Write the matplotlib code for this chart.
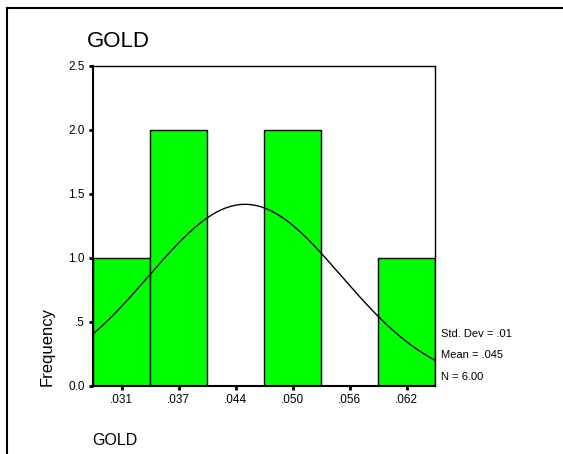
import numpy as np
import matplotlib
matplotlib.use("Agg")
import matplotlib.pyplot as plt
from matplotlib.lines import Line2D

plt.rcParams['font.family'] = ['Liberation Sans', 'DejaVu Sans']

# Data
bin_centers = [0.03125, 0.0375, 0.04375, 0.05, 0.05625, 0.0625]
counts = [1, 2, 0, 2, 0, 1]
x_tick_labels = ['.031', '.037', '.044', '.050', '.056', '.062']
y_ticks = [0.0, 0.5, 1.0, 1.5, 2.0, 2.5]
y_tick_labels = ['0.0', '.5', '1.0', '1.5', '2.0', '2.5']
bin_width = 0.00625
n_obs = 6
fit_mean = 0.0448
fit_sd = 0.01054
stats_lines = ['Std. Dev = .01', 'Mean = .045', 'N = 6.00']

W, H = 563, 454
fig = plt.figure(figsize=(W / 100, H / 100), dpi=100)
ax = fig.add_axes([93 / W, 68 / H, 342 / W, 320 / H])

ax.bar(bin_centers, counts, width=bin_width, color='#00ff00',
       edgecolor='black', linewidth=1.0, zorder=2)

xmin = bin_centers[0] - bin_width / 2
xmax = bin_centers[-1] + bin_width / 2
xs = np.linspace(xmin, xmax, 300)
ys = n_obs * bin_width / (fit_sd * np.sqrt(2 * np.pi)) * np.exp(-0.5 * ((xs - fit_mean) / fit_sd) ** 2)
ax.plot(xs, ys, color='black', linewidth=1.0, zorder=3)

ax.set_xlim(xmin, xmax)
ax.set_ylim(0, 2.5)
ax.set_xticks(bin_centers)
ax.set_xticklabels(x_tick_labels, fontsize=8.5)
ax.set_yticks(y_ticks)
ax.set_yticklabels(y_tick_labels, fontsize=8.5)
ax.tick_params(axis='both', direction='out', length=3, width=2, pad=3)
for s in ax.spines.values():
    s.set_linewidth(1.0)
    s.set_color('black')
ax.spines['left'].set_linewidth(1.5)
ax.spines['bottom'].set_linewidth(1.5)

fig.text(47 / W, 1 - 347 / H, 'Frequency', fontsize=12, rotation=90,
         ha='center', va='center')

fig.text(87 / W, 1 - 47 / H, 'GOLD', fontsize=16, ha='left', va='baseline')
fig.text(92 / W, 1 - 445 / H, 'GOLD', fontsize=11.5, ha='left', va='baseline')

for i, t in enumerate(stats_lines):
    fig.text(441 / W, 1 - (337 + 21.5 * i) / H, t, fontsize=8, ha='left', va='baseline')

# outer frame
fig.add_artist(Line2D([7 / W, 7 / W], [0, 1 - 8 / H], color='black', linewidth=1.5, transform=fig.transFigure))
fig.add_artist(Line2D([7 / W, 1], [1 - 8 / H, 1 - 8 / H], color='black', linewidth=1.5, transform=fig.transFigure))

fig.savefig('out.png', dpi=100)
